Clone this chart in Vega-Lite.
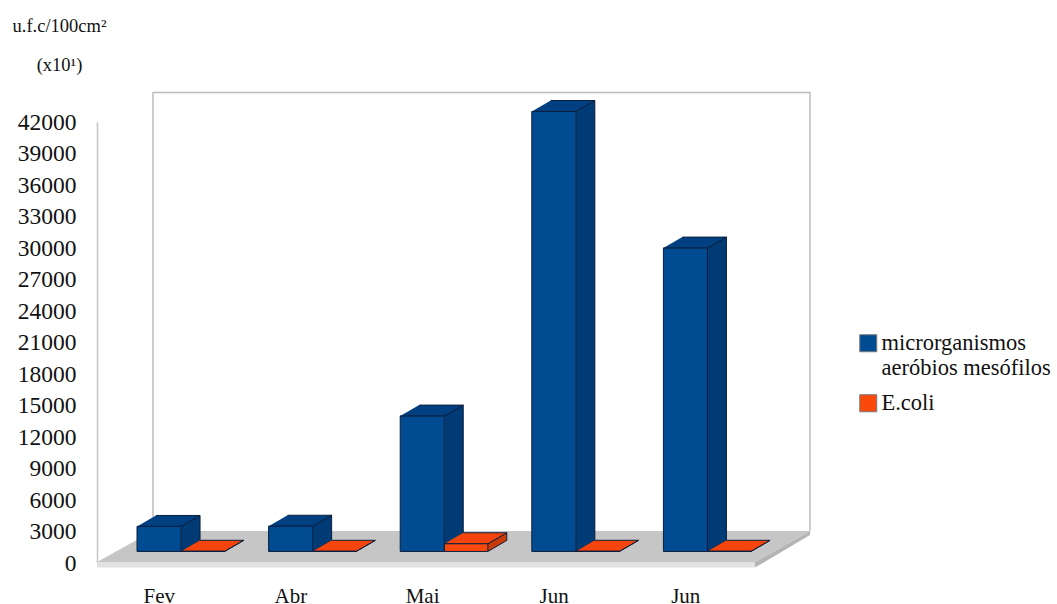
{
"$schema":"https://vega.github.io/schema/vega-lite/v6.json",
"width":658,"height":441,
"autosize":"none",
"padding":{"left":97,"top":122,"right":302,"bottom":41},
"background":"white",
"config":{"view":{"stroke":null},"font":"Liberation Serif"},
"datasets":{"contagens":[
{"mes":"Fev","ordem":0,"serie":"microrganismos aeróbios mesófilos","valor":2380},
{"mes":"Abr","ordem":1,"serie":"microrganismos aeróbios mesófilos","valor":2400},
{"mes":"Mai","ordem":2,"serie":"microrganismos aeróbios mesófilos","valor":12890},
{"mes":"Jun","ordem":3,"serie":"microrganismos aeróbios mesófilos","valor":41900},
{"mes":"Jun","ordem":4,"serie":"microrganismos aeróbios mesófilos","valor":28890},
{"mes":"Fev","ordem":0,"serie":"E.coli","valor":15},
{"mes":"Abr","ordem":1,"serie":"E.coli","valor":15},
{"mes":"Mai","ordem":2,"serie":"E.coli","valor":730},
{"mes":"Jun","ordem":3,"serie":"E.coli","valor":15},
{"mes":"Jun","ordem":4,"serie":"E.coli","valor":15}
]},
"data":{"name":"contagens"},
"encoding":{
"x":{"field":"px","type":"quantitative","scale":{"domain":[0,5],"nice":false,"zero":false},
"axis":{"title":null,"grid":false,"domain":false,"ticks":false,"orient":"bottom","values":[0.47,1.47,2.47,3.47,4.47],"labelExpr":"['Fev','Abr','Mai','Jun','Jun'][floor(datum.value)]","labelFont":"Liberation Serif","labelFontSize":21,"labelColor":"#111111","labelPadding":22,"labelFlush":false}},
"y":{"field":"py","type":"quantitative","scale":{"domain":[0,42000],"nice":false,"zero":false},
"axis":{"title":["u.f.c/100cm²","(x10¹)"],"titleFont":"Liberation Serif","titleFontSize":18.5,"titleFontWeight":"normal","titleColor":"#111111","titleAngle":0,"titleAlign":"center","titleBaseline":"alphabetic","titleX":-38,"titleY":-91,"titleLineHeight":39,
"grid":false,"ticks":false,"domain":true,"domainColor":"#c4c4c4","domainWidth":1.5,"values":[0,3000,6000,9000,12000,15000,18000,21000,24000,27000,30000,33000,36000,39000,42000],"format":"d","labelFont":"Liberation Serif","labelFontSize":23.5,"labelColor":"#111111","labelPadding":21,"labelFlush":false,"labelOverlap":false}},
"order":{"field":"pi","type":"quantitative"}
},
"layer":[
{"data":{"values":[{"plano":"parede"}]},
 "transform":[{"calculate":"[0.4255,0.4255,5.4179,5.4179]","as":"xs"},{"calculate":"[3048,44810,44810,3048]","as":"ys"},{"calculate":"[0,1,2,3]","as":"is"},{"flatten":["xs","ys","is"],"as":["px","py","pi"]}],
 "mark":{"type":"line","fill":"#ffffff","stroke":"#bdbdbd","strokeWidth":1.5,"clip":false}},
{"data":{"values":[{"plano":"frente"}]},
 "transform":[{"calculate":"[0,5,5,0]","as":"xs"},{"calculate":"[95,95,-430,-430]","as":"ys"},{"calculate":"[0,1,2,3]","as":"is"},{"flatten":["xs","ys","is"],"as":["px","py","pi"]}],
 "mark":{"type":"line","fill":"#e2e2e2","strokeOpacity":0}},
{"data":{"values":[{"plano":"lado"}]},
 "transform":[{"calculate":"[5,5.4179,5.4179,5]","as":"xs"},{"calculate":"[95,3048,2667,-430]","as":"ys"},{"calculate":"[0,1,2,3]","as":"is"},{"flatten":["xs","ys","is"],"as":["px","py","pi"]}],
 "mark":{"type":"line","fill":"#b4b4b4","strokeOpacity":0}},
{"data":{"values":[{"plano":"chao"}]},
 "transform":[{"calculate":"[0,5,5.4179,0.4255]","as":"xs"},{"calculate":"[95,95,3048,3048]","as":"ys"},{"calculate":"[0,1,2,3]","as":"is"},{"flatten":["xs","ys","is"],"as":["px","py","pi"]}],
 "mark":{"type":"line","fill":"#c6c6c6","strokeOpacity":0}},
{"transform":[
 {"calculate":"datum.serie+datum.ordem","as":"id"},
 {"calculate":"datum.ordem+(datum.serie==='E.coli'?0.64:0.304)","as":"x0"},{"calculate":"datum.x0+(datum.serie==='E.coli'?0.33:0.335)","as":"x1"},{"calculate":"1100+datum.valor","as":"topo"},
 {"calculate":"[datum.x1,datum.x1+0.144,datum.x1+0.144,datum.x1]","as":"xs"},{"calculate":"[1100,2148,datum.topo+1048,datum.topo]","as":"ys"},{"calculate":"[0,1,2,3]","as":"is"},{"flatten":["xs","ys","is"],"as":["px","py","pi"]}],
 "mark":{"type":"line","stroke":"#0b1f3f","strokeWidth":1},
 "encoding":{"detail":{"field":"id","type":"nominal"},"fill":{"condition":{"test":"datum.serie==='E.coli'","value":"#c83a0a"},"value":"#003b75"}}},
{"transform":[
 {"calculate":"datum.serie+datum.ordem","as":"id"},
 {"calculate":"datum.ordem+(datum.serie==='E.coli'?0.64:0.304)","as":"x0"},{"calculate":"datum.x0+(datum.serie==='E.coli'?0.33:0.335)","as":"x1"},{"calculate":"1100+datum.valor","as":"topo"},
 {"calculate":"[datum.x0,datum.x1,datum.x1+0.144,datum.x0+0.144]","as":"xs"},{"calculate":"[datum.topo,datum.topo,datum.topo+1048,datum.topo+1048]","as":"ys"},{"calculate":"[0,1,2,3]","as":"is"},{"flatten":["xs","ys","is"],"as":["px","py","pi"]}],
 "mark":{"type":"line","stroke":"#0b1f3f","strokeWidth":1},
 "encoding":{"detail":{"field":"id","type":"nominal"},"fill":{"condition":{"test":"datum.serie==='E.coli'","value":"#f5440c"},"value":"#004080"}}},
{"transform":[
 {"calculate":"datum.ordem+(datum.serie==='E.coli'?0.64:0.304)","as":"px"},{"calculate":"datum.px+(datum.serie==='E.coli'?0.33:0.335)","as":"px2"},{"calculate":"1100","as":"py"},{"calculate":"1100+datum.valor","as":"py2"}],
 "mark":{"type":"rect","stroke":"#0b1f3f","strokeWidth":1},
 "encoding":{"x2":{"field":"px2"},"y2":{"field":"py2"},
 "color":{"field":"serie","type":"nominal","scale":{"domain":["microrganismos aeróbios mesófilos","E.coli"],"range":["#004b91","#fb490c"]},
 "legend":{"title":null,"orient":"none","legendX":760,"legendY":210,"symbolType":"square","symbolSize":289,"symbolStrokeColor":"#777777","symbolStrokeWidth":1,"labelFont":"Liberation Serif","labelFontSize":22.5,"labelColor":"#111111","labelOffset":2,"labelLimit":220,"rowPadding":12,"labelExpr":"datum.label==='E.coli'?datum.label:['microrganismos','aeróbios mesófilos']"}}}}
]}
